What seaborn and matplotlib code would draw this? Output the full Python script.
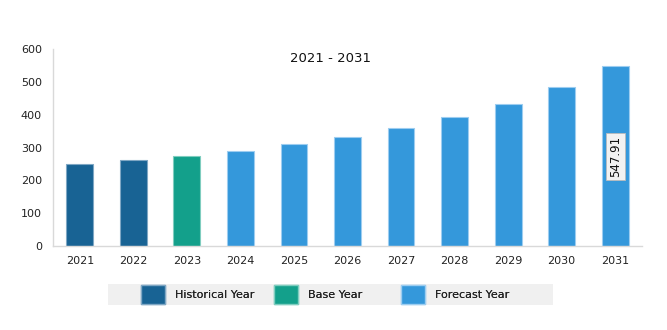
import matplotlib
matplotlib.use("Agg")
import matplotlib.pyplot as plt
import seaborn as sns
import pandas as pd
import numpy as np
from matplotlib.patches import Patch, Rectangle

years = ["2021", "2022", "2023", "2024", "2025", "2026", "2027", "2028", "2029", "2030", "2031"]
values = [250, 261, 274, 290, 310, 331, 358, 393, 434, 484, 547.91]
types = ["Historical Year", "Historical Year", "Base Year"] + ["Forecast Year"] * 8
palette = {"Historical Year": "#186394", "Base Year": "#13a08b", "Forecast Year": "#3498db"}
edge_palette = {"Historical Year": "#7fa7c4", "Base Year": "#7fcdbf", "Forecast Year": "#9dcdf0"}

df = pd.DataFrame({"year": years, "value": values, "type": types})

sns.set_style("white")
plt.rcParams["font.family"] = ["DejaVu Sans"]

W, H = 667, 330
fig = plt.figure(figsize=(6.67, 3.30), dpi=100)
ax = fig.add_axes([0.0795, 0.2545, 0.883, 0.597])

sns.barplot(data=df, x="year", y="value", hue="type", palette=palette, dodge=False,
            width=0.5, ax=ax, legend=False, saturation=1)
for patch, t in zip(ax.patches, types):
    patch.set_edgecolor(edge_palette[t])
    patch.set_linewidth(0.8)

ax.set_xlim(-0.5, len(years) - 0.5)
ax.set_ylim(0, 600)
ax.set_yticks(np.arange(0, 601, 100))
ax.set_xlabel("")
ax.set_ylabel("")
for s in ["top", "right"]:
    ax.spines[s].set_visible(False)
for s in ["left", "bottom"]:
    ax.spines[s].set_color("#d9d9d9")
    ax.spines[s].set_linewidth(1)
ax.tick_params(axis="x", which="major", length=0, labelsize=8, pad=7, labelcolor="#222222")
ax.set_xticks(np.arange(-0.5, len(years), 1), minor=True)
ax.tick_params(axis="x", which="minor", length=4, color="#d9d9d9")
ax.tick_params(axis="y", length=4, color="#d9d9d9", labelsize=8, pad=4, labelcolor="#222222")

fig.text(331 / W, 1 - 58 / H, "2021 - 2031", ha="center", va="center",
         fontsize=9.5, color="#111111")

last = len(years) - 1
ax.text(last, values[last] / 2, f"{values[last]:.2f}", rotation=90, ha="center", va="center",
        fontsize=8.5, color="#111111",
        bbox=dict(boxstyle="square,pad=0.25", facecolor="#f2f2f2", edgecolor="#bbbbbb", linewidth=0.6))

# legend band
fig.patches.append(Rectangle((108 / W, 1 - 305 / H), 445 / W, 21 / H, transform=fig.transFigure,
                             facecolor="#f0f0f0", edgecolor="none", zorder=0))
leg_x = {"Historical Year": 141, "Base Year": 274, "Forecast Year": 401}
for k in palette:
    h = Patch(facecolor=palette[k], edgecolor=edge_palette[k], label=k)
    lg = fig.legend(handles=[h], loc="center left", bbox_to_anchor=(leg_x[k] / W, 1 - 294.5 / H),
                    frameon=False, fontsize=8, handlelength=2.2, handleheight=2.2,
                    handletextpad=0.85, borderpad=0, borderaxespad=0)
    for t in lg.get_texts():
        t.set_color("#222222")
    fig.add_artist(lg)

fig.savefig("out.png", dpi=100)
